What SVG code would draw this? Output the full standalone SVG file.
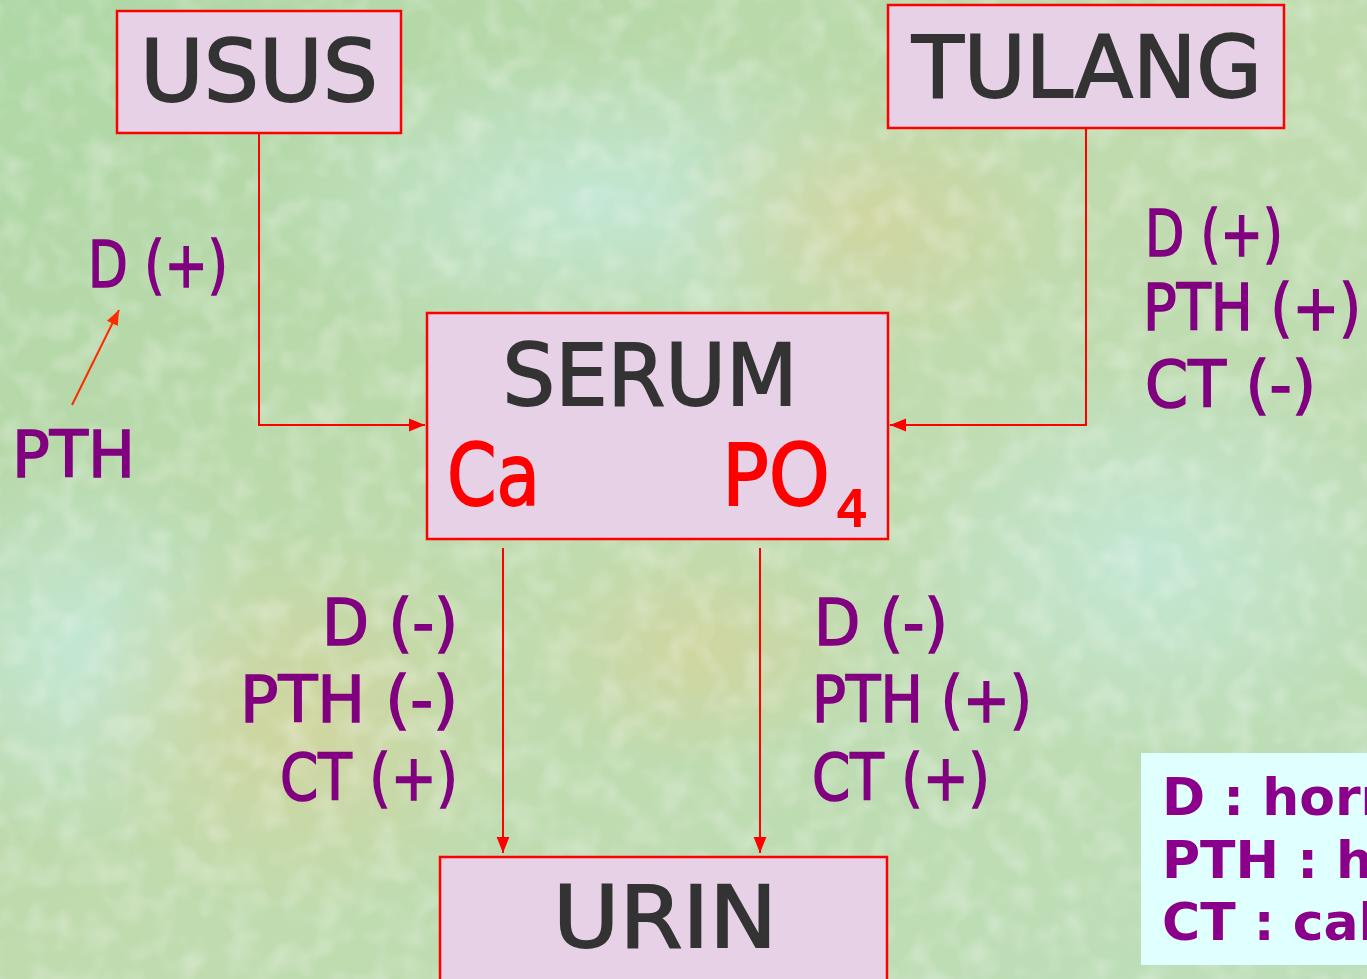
<svg xmlns="http://www.w3.org/2000/svg" width="1367" height="979" viewBox="0 0 1367 979">
<style>
.box{fill:#e7d1e6;stroke:#ff0000;stroke-width:2.5}
.big{font-family:"DejaVu Sans","Liberation Sans",sans-serif;fill:#333333;stroke:#333333;stroke-width:1.8}
.red{font-family:"DejaVu Sans","Liberation Sans",sans-serif;fill:#ff0000;stroke:#ff0000;stroke-width:1.8}
.lab{font-family:"DejaVu Sans","Liberation Sans",sans-serif;fill:#800080;stroke:#800080;stroke-width:1.6;font-size:64px}
.leg{font-family:"DejaVu Sans","Liberation Sans",sans-serif;fill:#8b008b;font-size:52px;font-weight:bold}
.con{stroke:#ff0000;stroke-width:2;fill:none}
</style>
<defs>
<linearGradient id="bg" x1="0" y1="0" x2="1" y2="1">
<stop offset="0" stop-color="#afd7a6"/>
<stop offset="0.5" stop-color="#c0dbae"/>
<stop offset="1" stop-color="#bcdeb9"/>
</linearGradient>
<radialGradient id="cy" cx="0.5" cy="0.5" r="0.5">
<stop offset="0" stop-color="#c4e8d8" stop-opacity="0.9"/>
<stop offset="1" stop-color="#c4e8d8" stop-opacity="0"/>
</radialGradient>
<radialGradient id="ye" cx="0.5" cy="0.5" r="0.5">
<stop offset="0" stop-color="#d4d49c" stop-opacity="0.8"/>
<stop offset="1" stop-color="#d4d49c" stop-opacity="0"/>
</radialGradient>
<filter id="tex" x="0" y="0" width="100%" height="100%">
<feTurbulence type="fractalNoise" baseFrequency="0.035" numOctaves="2" seed="3"/>
<feColorMatrix type="matrix" values="0 0 0 0 1  0 0 0 0 1  0 0 0 0 1  0 0 0 -2.2 1.25"/>
</filter>
<marker id="ah2" viewBox="0 0 10 10" refX="10" refY="5" markerWidth="16" markerHeight="16" markerUnits="userSpaceOnUse" orient="auto">
<path d="M0,1 L10,5 L0,9 z" fill="#ff0000"/>
</marker>
<marker id="ah3" viewBox="0 0 10 10" refX="10" refY="5" markerWidth="15" markerHeight="15" markerUnits="userSpaceOnUse" orient="auto">
<path d="M0,1 L10,5 L0,9 z" fill="#ff2a00"/>
</marker>
</defs>
<g id="background">
<rect x="0" y="0" width="1367" height="979" fill="url(#bg)"/>
<ellipse cx="600" cy="200" rx="350" ry="160" fill="url(#cy)"/>
<ellipse cx="1150" cy="560" rx="260" ry="200" fill="url(#cy)"/>
<ellipse cx="80" cy="650" rx="200" ry="200" fill="url(#cy)"/>
<ellipse cx="300" cy="720" rx="230" ry="200" fill="url(#ye)"/>
<ellipse cx="870" cy="220" rx="200" ry="140" fill="url(#ye)"/>
<ellipse cx="700" cy="650" rx="180" ry="120" fill="url(#ye)"/>
<rect x="0" y="0" width="1367" height="979" filter="url(#tex)" opacity="0.28"/>
</g>
<g id="connectors">
<polyline class="con" points="259,133 259,425 425,425" marker-end="url(#ah2)"/>
<polyline class="con" points="1086,128 1086,425 890,425" marker-end="url(#ah2)"/>
<line class="con" x1="503" y1="548" x2="503" y2="853" marker-end="url(#ah2)"/>
<line class="con" x1="760" y1="548" x2="760" y2="853" marker-end="url(#ah2)"/>
<line x1="72" y1="405" x2="119" y2="310" stroke="#ff2a00" stroke-width="2" marker-end="url(#ah3)"/>
</g>
<g id="usus">
<rect class="box" x="117" y="11" width="284" height="122"/>
<text class="big" x="259" y="101" font-size="86" text-anchor="middle" textLength="238" lengthAdjust="spacingAndGlyphs">USUS</text>
</g>
<g id="tulang">
<rect class="box" x="888" y="5" width="396" height="123"/>
<text class="big" x="1087" y="97" font-size="86" text-anchor="middle" textLength="350" lengthAdjust="spacingAndGlyphs">TULANG</text>
</g>
<g id="serum">
<rect class="box" x="427" y="313" width="461" height="226"/>
<text class="big" x="650" y="405" font-size="86" text-anchor="middle" textLength="295" lengthAdjust="spacingAndGlyphs">SERUM</text>
<text class="red" x="447" y="505" font-size="86" textLength="93" lengthAdjust="spacingAndGlyphs">Ca</text>
<text class="red" x="722" y="505" font-size="86" textLength="108" lengthAdjust="spacingAndGlyphs">PO</text>
<text class="red" x="836" y="526" font-size="50">4</text>
</g>
<g id="urin">
<rect class="box" x="440" y="857" width="447" height="130"/>
<text class="big" x="665" y="947" font-size="86" text-anchor="middle" textLength="224" lengthAdjust="spacingAndGlyphs">URIN</text>
</g>
<g id="labels">
<text class="lab" x="88" y="287" textLength="140" lengthAdjust="spacingAndGlyphs">D (+)</text>
<text class="lab" x="12" y="477" textLength="123" lengthAdjust="spacingAndGlyphs">PTH</text>
<text class="lab" x="1145" y="256" textLength="138" lengthAdjust="spacingAndGlyphs">D (+)</text>
<text class="lab" x="1143" y="330" textLength="218" lengthAdjust="spacingAndGlyphs">PTH (+)</text>
<text class="lab" x="1145" y="407" textLength="171" lengthAdjust="spacingAndGlyphs">CT (-)</text>
<text class="lab" x="322" y="645" textLength="136" lengthAdjust="spacingAndGlyphs">D (-)</text>
<text class="lab" x="240" y="722" textLength="218" lengthAdjust="spacingAndGlyphs">PTH (-)</text>
<text class="lab" x="280" y="800" textLength="178" lengthAdjust="spacingAndGlyphs">CT (+)</text>
<text class="lab" x="814" y="645" textLength="134" lengthAdjust="spacingAndGlyphs">D (-)</text>
<text class="lab" x="812" y="722" textLength="220" lengthAdjust="spacingAndGlyphs">PTH (+)</text>
<text class="lab" x="812" y="800" textLength="178" lengthAdjust="spacingAndGlyphs">CT (+)</text>
</g>
<g id="legend">
<rect x="1141" y="753" width="240" height="212" fill="#e0ffff"/>
<text class="leg" x="1162" y="815">D : hormon</text>
<text class="leg" x="1162" y="878">PTH : hormon</text>
<text class="leg" x="1162" y="940">CT : calcitonin</text>
</g>
</svg>
